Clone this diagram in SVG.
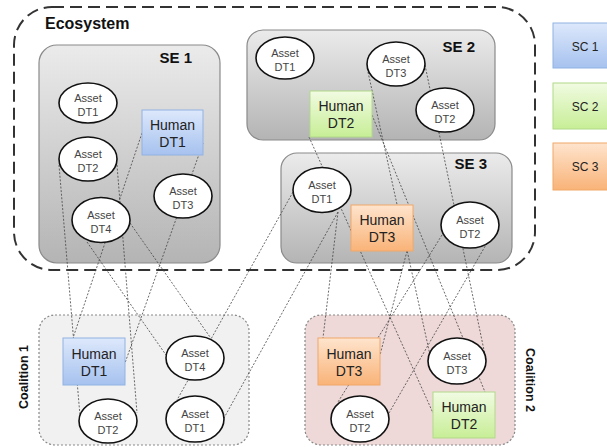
<svg xmlns="http://www.w3.org/2000/svg" width="607" height="447" viewBox="0 0 607 447">
<defs>
<linearGradient id="gSE" x1="0" y1="0" x2="0" y2="1"><stop offset="0" stop-color="#ebebeb"/><stop offset="1" stop-color="#b4b4b4"/></linearGradient>
<linearGradient id="gBlue" x1="0" y1="0" x2="0" y2="1"><stop offset="0" stop-color="#dde8fb"/><stop offset="1" stop-color="#a6c2ef"/></linearGradient>
<linearGradient id="gGreen" x1="0" y1="0" x2="0" y2="1"><stop offset="0" stop-color="#f1fbe2"/><stop offset="1" stop-color="#c7ee96"/></linearGradient>
<linearGradient id="gOrange" x1="0" y1="0" x2="0" y2="1"><stop offset="0" stop-color="#fee4cd"/><stop offset="1" stop-color="#f9b378"/></linearGradient>
</defs>
<style>
text{font-family:"Liberation Sans",Arial,sans-serif;}
.se{fill:url(#gSE);stroke:#8a8a8a;stroke-width:1.2;}
.eco{fill:none;stroke:#333;stroke-width:2;stroke-dasharray:12 6;}
.coal{stroke:#888;stroke-width:1.2;stroke-dasharray:2 2;}
.asset ellipse{fill:#fff;stroke:#111;stroke-width:1.6;}
.asset text{font-size:11px;fill:#444;text-anchor:middle;}
.human text{font-size:14px;fill:#222;text-anchor:middle;}
.blue rect{fill:url(#gBlue);stroke:#92b2e2;stroke-width:1;}
.green rect{fill:url(#gGreen);stroke:#b2d98a;stroke-width:1;}
.orange rect{fill:url(#gOrange);stroke:#f0a868;stroke-width:1;}
.title{font-weight:bold;fill:#111;}
.sc text{font-size:12px;fill:#222;text-anchor:middle;}
#connectors line{stroke:#444;stroke-width:0.8;stroke-dasharray:2 1.6;}
</style>

<rect class="eco" x="14" y="7" width="521" height="263" rx="38"/>
<text class="title" x="45" y="29" font-size="16">Ecosystem</text>

<g id="SE1"><rect class="se" x="39" y="45" width="181" height="218" rx="18"/><text class="title" x="192" y="63" font-size="15" text-anchor="end">SE 1</text></g>
<g id="SE2"><rect class="se" x="247" y="30" width="248" height="110" rx="16"/><text class="title" x="475" y="52" font-size="15" text-anchor="end">SE 2</text></g>
<g id="SE3"><rect class="se" x="281" y="153" width="231" height="110" rx="16"/><text class="title" x="487" y="169" font-size="15" text-anchor="end">SE 3</text></g>

<g id="Coalition1"><rect class="coal" x="39" y="315" width="210" height="130" rx="16" fill="#f1f1f1"/><text class="title" font-size="12.5" text-anchor="middle" transform="translate(28,377) rotate(-90)">Coalition 1</text></g>
<g id="Coalition2"><rect class="coal" x="305" y="315" width="210" height="130" rx="16" fill="#eed8d8"/><text class="title" font-size="12.5" text-anchor="middle" transform="translate(526,380) rotate(90)">Coalition 2</text></g>

<g id="connectors">
<line x1="142" y1="133" x2="73" y2="338"/>
<line x1="203" y1="143" x2="125" y2="363"/>
<line x1="59" y1="165" x2="80" y2="416"/>
<line x1="117" y1="165" x2="137" y2="413"/>
<line x1="87" y1="242" x2="166" y2="355"/>
<line x1="130" y1="223" x2="210" y2="337"/>
<line x1="293" y1="192" x2="177" y2="400"/>
<line x1="338" y1="212" x2="224" y2="418"/>
<line x1="309" y1="137" x2="433" y2="413"/>
<line x1="372" y1="115" x2="485" y2="392"/>
<line x1="368" y1="72" x2="430" y2="355"/>
<line x1="425" y1="65" x2="486" y2="360"/>
<line x1="407" y1="251" x2="380" y2="355"/>
<line x1="338" y1="212" x2="323" y2="338"/>
<line x1="442" y1="235" x2="338" y2="402"/>
<line x1="487" y1="243" x2="389" y2="413"/>
</g>

<g id="se1-asset-dt1" class="asset"><ellipse cx="88" cy="103" rx="29" ry="20"/><text x="88" y="102">Asset</text><text x="88" y="116">DT1</text></g>
<g id="se1-human-dt1" class="human blue"><rect x="142" y="110" width="61" height="45"/><text x="172.5" y="130">Human</text><text x="172.5" y="147">DT1</text></g>
<g id="se1-asset-dt2" class="asset"><ellipse cx="88" cy="159" rx="29" ry="22"/><text x="88" y="158">Asset</text><text x="88" y="172">DT2</text></g>
<g id="se1-asset-dt3" class="asset"><ellipse cx="183" cy="196" rx="29" ry="22"/><text x="183" y="195">Asset</text><text x="183" y="209">DT3</text></g>
<g id="se1-asset-dt4" class="asset"><ellipse cx="101" cy="220" rx="29" ry="22.5"/><text x="101" y="219">Asset</text><text x="101" y="233">DT4</text></g>

<g id="se2-asset-dt1" class="asset"><ellipse cx="285" cy="58" rx="29" ry="21"/><text x="285" y="57">Asset</text><text x="285" y="71">DT1</text></g>
<g id="se2-asset-dt3" class="asset"><ellipse cx="396" cy="64" rx="29" ry="22"/><text x="396" y="63">Asset</text><text x="396" y="77">DT3</text></g>
<g id="se2-asset-dt2" class="asset"><ellipse cx="445" cy="110" rx="29" ry="22"/><text x="445" y="109">Asset</text><text x="445" y="123">DT2</text></g>
<g id="se2-human-dt2" class="human green"><rect x="310" y="91" width="62" height="46"/><text x="341" y="111">Human</text><text x="341" y="128">DT2</text></g>

<g id="se3-asset-dt1" class="asset"><ellipse cx="322" cy="190" rx="29" ry="22.5"/><text x="322" y="189">Asset</text><text x="322" y="203">DT1</text></g>
<g id="se3-human-dt3" class="human orange"><rect x="351" y="205" width="62" height="46"/><text x="382" y="225">Human</text><text x="382" y="242">DT3</text></g>
<g id="se3-asset-dt2" class="asset"><ellipse cx="470" cy="225" rx="29" ry="23"/><text x="470" y="224">Asset</text><text x="470" y="238">DT2</text></g>

<g id="c1-human-dt1" class="human blue"><rect x="63" y="338" width="62" height="47"/><text x="94" y="359">Human</text><text x="94" y="376">DT1</text></g>
<g id="c1-asset-dt4" class="asset"><ellipse cx="195" cy="358" rx="29" ry="22"/><text x="195" y="357">Asset</text><text x="195" y="371">DT4</text></g>
<g id="c1-asset-dt2" class="asset"><ellipse cx="108" cy="421" rx="29" ry="22"/><text x="108" y="420">Asset</text><text x="108" y="434">DT2</text></g>
<g id="c1-asset-dt1" class="asset"><ellipse cx="195" cy="419" rx="29" ry="23"/><text x="195" y="418">Asset</text><text x="195" y="432">DT1</text></g>

<g id="c2-human-dt3" class="human orange"><rect x="318" y="338" width="62" height="47"/><text x="349" y="359">Human</text><text x="349" y="376">DT3</text></g>
<g id="c2-asset-dt3" class="asset"><ellipse cx="457" cy="361" rx="29" ry="23"/><text x="457" y="360">Asset</text><text x="457" y="374">DT3</text></g>
<g id="c2-human-dt2" class="human green"><rect x="433" y="392" width="62" height="46"/><text x="464" y="412">Human</text><text x="464" y="429">DT2</text></g>
<g id="c2-asset-dt2" class="asset"><ellipse cx="360" cy="419" rx="29" ry="23"/><text x="360" y="418">Asset</text><text x="360" y="432">DT2</text></g>

<g id="sc1" class="sc blue"><rect x="553" y="23" width="64" height="45"/><text x="585" y="51">SC 1</text></g>
<g id="sc2" class="sc green"><rect x="553" y="83" width="64" height="46"/><text x="585" y="111">SC 2</text></g>
<g id="sc3" class="sc orange"><rect x="553" y="143" width="64" height="47"/><text x="585" y="171">SC 3</text></g>
</svg>
